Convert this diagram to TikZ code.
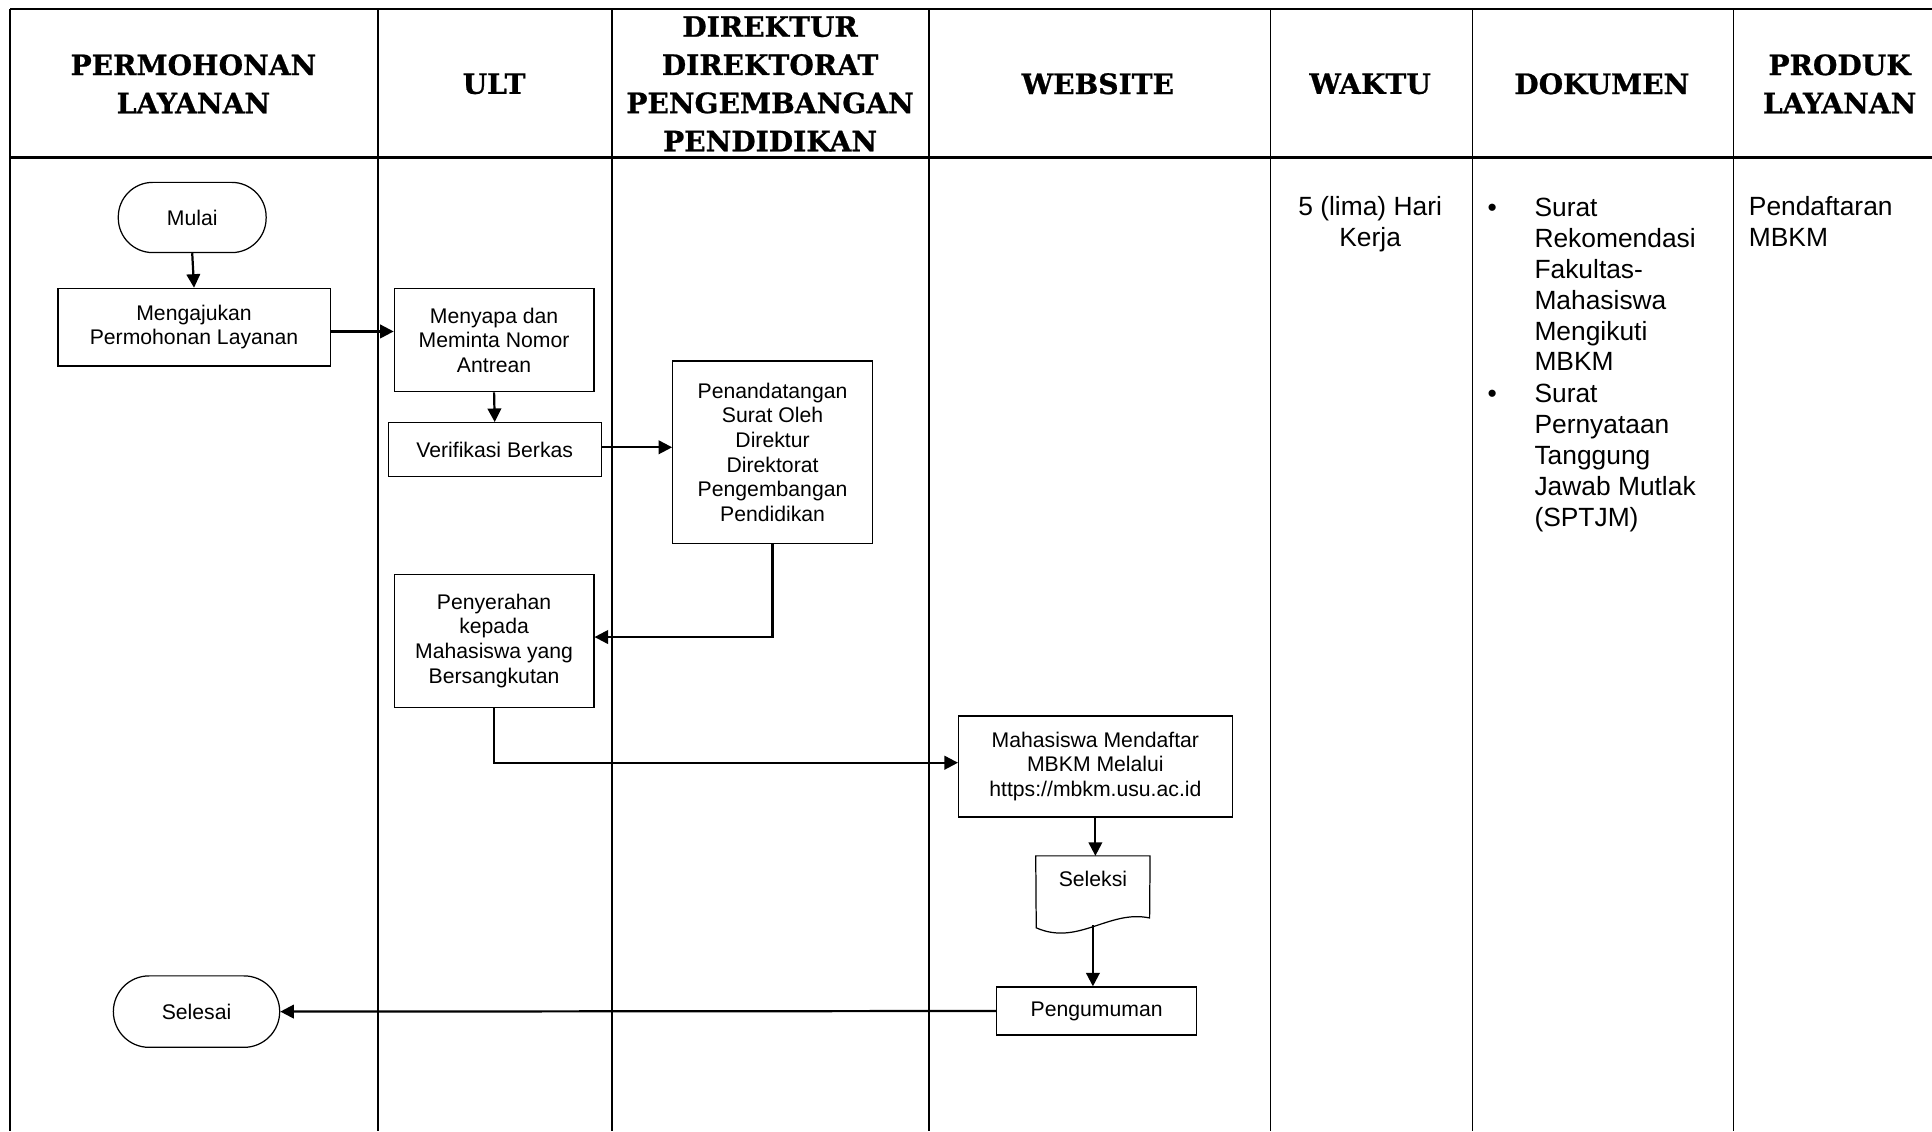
\documentclass[tikz,border=0pt]{standalone}
\usepackage{fontspec}
\setmainfont{Liberation Sans}
\newfontfamily\hdrfont[FakeBold=0.8]{DejaVu Serif}
\usetikzlibrary{arrows.meta}
\begin{document}
\begin{tikzpicture}[x=0.5pt,y=-0.5pt,
  tline/.style={line width=0.9pt},
  vline/.style={line width=0.75pt},
  hdr/.style={font=\hdrfont\bfseries\fontsize{11.4}{15.5}\selectfont, align=center, inner sep=0pt},
  box/.style={draw, line width=0.5pt, align=center, inner sep=0pt, font=\fontsize{8.6}{10}\selectfont},
  term/.style={box, rounded corners=14pt},
  flow/.style={line width=0.9pt, -{Triangle[length=5.5pt,width=5.5pt]}},
  body/.style={font=\fontsize{10.7}{12.5}\selectfont, inner sep=0pt}
]
\useasboundingbox (0,0) rectangle (1568,918);
% table
\draw[tline] (8,7) -- (1568,7);
\draw[line width=1.1pt] (8,128) -- (1568,128);
\foreach \x in {8,307,497,754}{\draw[vline] (\x,7) -- (\x,918);}
\foreach \x in {1031,1195,1407}{\draw[line width=0.55pt] (\x,7) -- (\x,918);}
% headers
\node[hdr] (h1) at (157,68) {PERMOHONAN\\LAYANAN};
\node[hdr] (h2) at (401,68) {ULT};
\node[hdr] (h3) at (625,68) {DIREKTUR\\DIREKTORAT\\PENGEMBANGAN\\PENDIDIKAN};
\node[hdr] (h4) at (891,68) {WEBSITE};
\node[hdr] (h5) at (1112,68) {WAKTU};
\node[hdr] (h6) at (1300,68) {DOKUMEN};
\node[hdr] (h7) at (1493,68) {PRODUK\\LAYANAN};
% flow nodes
\node[term, minimum width=60pt, minimum height=28.5pt] (mulai) at (156,176.5) {Mulai};
\node[box, minimum width=110.5pt, minimum height=31.5pt] (aju) at (157.5,265.5) {Mengajukan\\Permohonan Layanan};
\node[box, minimum width=81pt, minimum height=42pt] (sapa) at (401,276) {Menyapa dan\\Meminta Nomor\\Antrean};
\node[box, minimum width=86.5pt, minimum height=22pt] (verif) at (401.5,365) {Verifikasi Berkas};
\node[box, minimum width=81pt, minimum height=74pt] (tanda) at (627,367) {Penandatangan\\Surat Oleh\\Direktur\\Direktorat\\Pengembangan\\Pendidikan};
\node[box, minimum width=81pt, minimum height=54pt] (serah) at (401,520) {Penyerahan\\kepada\\Mahasiswa yang\\Bersangkutan};
\node[box, minimum width=111pt, minimum height=41pt] (daftar) at (889,622) {Mahasiswa Mendaftar\\MBKM Melalui\\https://mbkm.usu.ac.id};
\node[minimum width=46pt, minimum height=31pt, inner sep=0pt] (seleksi) at (887,726) {};
\draw[line width=0.5pt] (seleksi.north west) -- (seleksi.north east) -- (933,745)
  .. controls (900,738) and (875,768) .. (841,753) -- cycle;
\node[font=\fontsize{8.6}{10}\selectfont, inner sep=0pt] (seltext) at (887,713) {Seleksi};
\coordinate (selb) at (887,751);
\node[box, minimum width=81pt, minimum height=19.5pt] (umum) at (890,820.5) {Pengumuman};
\node[term, rounded corners=14.5pt, minimum width=67.5pt, minimum height=29pt] (selesai) at (159.5,821) {Selesai};
% connectors
\draw[flow] (mulai.south) -- (aju.north);
\draw[flow] ([yshift=-1.75pt]aju.east) -- ([yshift=-1.75pt]aju.east -| sapa.west);
\draw[flow] (sapa.south) -- (verif.north);
\draw[flow] ([yshift=1pt]verif.east) -- ([yshift=1pt]verif.east -| tanda.west);
\draw[flow] (tanda.south) |- ([yshift=1.5pt]serah.east);
\draw[flow] (serah.south) |- ([yshift=1.5pt]daftar.west);
\draw[flow] (daftar.south) -- (daftar.south |- seleksi.north);
\draw[flow] (selb) -- (selb |- umum.north);
\draw[flow] (umum.west) -- (selesai.east);
% side columns
\node[body, anchor=base] (waktu) at (1112,175) {\begin{tabular}[t]{@{}c@{}}5 (lima) Hari\\Kerja\end{tabular}};
\node[body, anchor=base] (b1) at (1211,176) {•};
\node[body, anchor=base west] (doc1) at (1245,176) {\begin{tabular}[t]{@{}l@{}}Surat\\Rekomendasi\\Fakultas-\\Mahasiswa\\Mengikuti\\MBKM\end{tabular}};
\node[body, anchor=base] (b2) at (1211,327) {•};
\node[body, anchor=base west] (doc2) at (1245,327) {\begin{tabular}[t]{@{}l@{}}Surat\\Pernyataan\\Tanggung\\Jawab Mutlak\\(SPTJM)\end{tabular}};
\node[body, anchor=base west] (produk) at (1419,175) {\begin{tabular}[t]{@{}l@{}}Pendaftaran\\MBKM\end{tabular}};
\end{tikzpicture}
\end{document}
